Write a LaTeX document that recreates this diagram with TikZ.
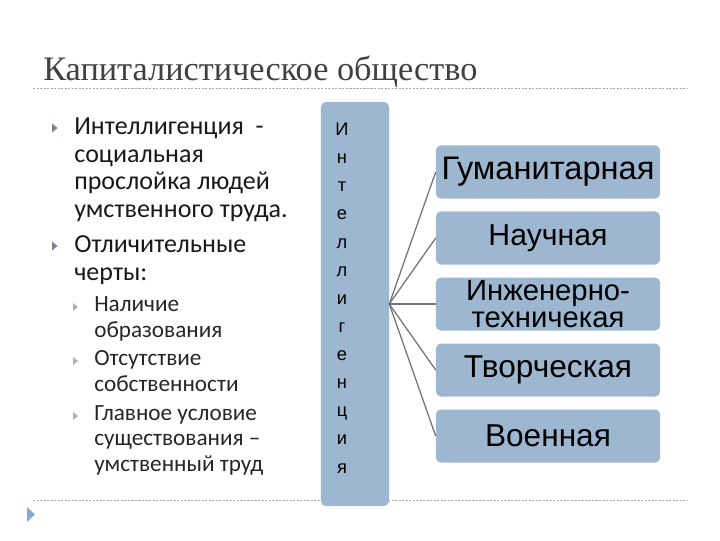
\documentclass[tikz,border=0pt]{standalone}
\usepackage{fontspec}
\setmainfont{Carlito}
\newfontfamily\titlefont{Liberation Serif}
\newfontfamily\boxfont{Liberation Sans}
\definecolor{boxblue}{RGB}{157,183,208}
\definecolor{bulletgray}{RGB}{125,125,160}
\definecolor{subgray}{RGB}{175,175,185}
\definecolor{rulegray}{RGB}{170,170,170}
\definecolor{linkgray}{RGB}{115,115,125}
\definecolor{navblue}{RGB}{135,170,210}

\begin{document}
\begin{tikzpicture}[x=0.025cm,y=-0.025cm,
  kind/.style={fill=boxblue,rounded corners=3.5pt,minimum width=5.6cm,minimum height=1.325cm,inner sep=0pt,align=center,font=\boxfont\fontsize{22.5}{23}\selectfont},
  para/.style={anchor=base west,align=left,inner sep=0pt,text=black!90,font=\fontsize{18.5}{19.6}\selectfont},
  subpara/.style={anchor=base west,align=left,inner sep=0pt,text=black!85,font=\fontsize{16.5}{17.8}\selectfont},
  rule/.style={rulegray,line width=0.5pt,dash pattern=on 1.5pt off 1pt}]
\useasboundingbox (0,0) rectangle (720,540);
\node[anchor=base west,inner sep=0pt,text=black!75,font=\titlefont\fontsize{24.4}{24.4}\selectfont] (title) at (43,80) {Капиталистическое общество};
\draw[rule] (33,88) -- (688,88);
\draw[rule] (33,500) -- (688,500);
\fill[navblue] (27,507) -- (35,514.5) -- (27,522) -- cycle;
\foreach \y in {128,246}
  \fill[bulletgray] (52,\y-4.5) -- (57.5,\y) -- (52,\y+4.5) -- cycle;
\foreach \y in {307,361,416}
  \fill[subgray] (73,\y-4) -- (78,\y) -- (73,\y+4) -- cycle;
\node[para] (def) at (74,217.5) {Интеллигенция \ -\\социальная\\прослойка людей\\умственного труда.};
\node[para] (traits) at (74,280.5) {Отличительные\\черты:};
\node[subpara] (edu) at (94,337) {Наличие\\образования};
\node[subpara] (prop) at (94,391) {Отсутствие\\собственности};
\node[subpara] (work) at (94,471) {Главное условие\\существования --\\умственный труд};
\node[fill=boxblue,rounded corners=3.5pt,minimum width=1.7cm,minimum height=10.1cm,inner sep=0pt] (intel) at (355,304) {};
\node[anchor=base,align=center,inner sep=0pt,font=\boxfont\fontsize{13}{20}\selectfont] (word) at (342,473) {И\\н\\т\\е\\л\\л\\и\\г\\е\\н\\ц\\и\\я};
\node[kind,font=\boxfont\fontsize{23.2}{23}\selectfont] (k1) at (548,172) {Гуманитарная};
\node[kind,font=\boxfont\fontsize{21.5}{23}\selectfont] (k2) at (548,238) {Научная};
\node[kind,font=\boxfont\fontsize{20.8}{19.3}\selectfont] (k3) at (548,304) {Инженерно-\\техничекая};
\node[kind] (k4) at (548,370) {Творческая};
\node[kind] (k5) at (548,436) {Военная};
\foreach \k in {1,...,5}
  \draw[linkgray,line width=0.9pt] (intel.east) -- (k\k.west);
\end{tikzpicture}
\end{document}
